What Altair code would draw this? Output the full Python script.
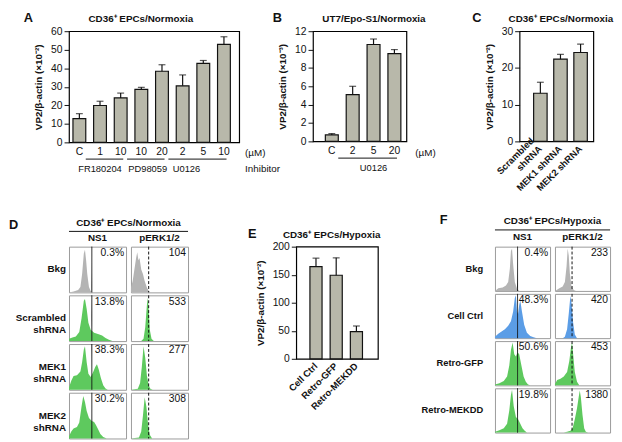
import altair as alt
import pandas as pd

FONT = "Liberation Sans"
INK = "#111111"
BAR_FILL = "#b8b8aa"
GRAY = "#b4b4b4"
GREEN = "#5ec95e"
BLUE = "#5b9de6"

# ---------------- bar panels ----------------
A_ids = ["C", "1|FR", "10|FR", "10|PD", "20|PD", "2|U", "5|U", "10|U"]
A_vals = [12.8, 19.9, 24.0, 28.6, 38.4, 30.5, 42.6, 52.9]
A_errs = [2.7, 2.3, 2.6, 1.1, 3.5, 5.9, 1.6, 4.1]
A_groups = ["FR180204", "PD98059", "U0126"]
A_gprev = ["C", "10|FR", "20|PD"]      # bar just before each group
A_gend = ["10|FR", "20|PD", "10|U"]
A_gmid = ["1|FR", "10|PD", "2|U"]

B_ids = ["C", "2", "5", "20"]
B_vals = [0.7, 5.1, 10.55, 9.55]
B_errs = [0.15, 0.9, 0.6, 0.45]
B_groups = ["U0126"]
B_gprev = ["C"]
B_gend = ["20"]
B_gmid = ["5"]

C_ids = ["Scrambled|shRNA", "MEK1 shRNA", "MEK2 shRNA"]
C_vals = [13.1, 22.4, 24.2]
C_errs = [3.0, 1.3, 2.3]

E_ids = ["Cell Ctrl", "Retro-GFP", "Retro-MEKDD"]
E_vals = [164.5, 149.0, 48.5]
E_errs = [15.0, 31.0, 10.0]

# ---------------- flow histograms (x: 0-100 of cell width, y: 0-1 of cell height) ----------------
D_rows = ["Bkg", "Scrambled|shRNA", "MEK1|shRNA", "MEK2|shRNA"]
D_kinds = ["gray", "green", "green", "green"]
D_ns1_labels = ["0.3%", "13.8%", "38.3%", "30.2%"]
D_perk_labels = ["104", "533", "277", "308"]
D_gates = [40, 31]
D_ns1 = [
    [(0, 0), (8, 0.02), (16, 0.05), (20, 0.12), (23, 0.4), (26, 0.85), (28, 0.93), (30, 0.7), (32, 0.4), (35, 0.12), (38, 0.03), (42, 0)],
    [(0, 0.05), (6, 0.08), (12, 0.1), (18, 0.2), (22, 0.5), (26, 0.88), (28, 0.92), (31, 0.7), (34, 0.4), (38, 0.25), (44, 0.18), (52, 0.15), (58, 0.12), (64, 0.07), (70, 0.03), (76, 0)],
    [(0, 0.05), (4, 0.2), (8, 0.3), (14, 0.32), (20, 0.4), (23, 0.6), (26, 0.88), (28, 0.95), (31, 0.6), (34, 0.35), (38, 0.28), (42, 0.38), (46, 0.5), (49, 0.56), (52, 0.45), (56, 0.25), (60, 0.1), (64, 0.03), (68, 0)],
    [(0, 0.05), (4, 0.15), (8, 0.22), (14, 0.25), (18, 0.35), (22, 0.7), (25, 0.93), (28, 0.8), (31, 0.6), (35, 0.45), (40, 0.38), (44, 0.36), (47, 0.3), (51, 0.2), (55, 0.1), (60, 0.03), (66, 0)],
]
D_perk = [
    [(0, 0.1), (3, 0.25), (6, 0.5), (9, 0.75), (11, 0.88), (13, 0.7), (15, 0.75), (18, 0.5), (21, 0.4), (24, 0.25), (28, 0.1), (31, 0.03), (34, 0)],
    [(0, 0), (18, 0), (22, 0.05), (25, 0.3), (28, 0.8), (29.5, 0.95), (31, 0.7), (33, 0.25), (36, 0.05), (40, 0)],
    [(0, 0), (12, 0.02), (16, 0.15), (19, 0.5), (22, 0.95), (25, 0.7), (28, 0.3), (31, 0.1), (34, 0.02), (38, 0)],
    [(0, 0), (14, 0.02), (18, 0.15), (21, 0.5), (24, 0.9), (27, 0.7), (30, 0.3), (33, 0.08), (37, 0)],
]

F_rows = ["Bkg", "Cell Ctrl", "Retro-GFP", "Retro-MEKDD"]
F_kinds = ["gray", "blue", "green", "green"]
F_ns1_labels = ["0.4%", "48.3%", "50.6%", "19.8%"]
F_perk_labels = ["233", "420", "453", "1380"]
F_gates = [41, 31]
F_ns1 = [
    [(0, 0), (6, 0.06), (14, 0.08), (20, 0.12), (24, 0.2), (27, 0.5), (29, 0.9), (31, 0.95), (33, 0.6), (36, 0.2), (40, 0.05), (44, 0)],
    [(0, 0.03), (6, 0.1), (12, 0.15), (18, 0.2), (24, 0.28), (29, 0.38), (33, 0.6), (36, 0.9), (38, 0.97), (40, 0.6), (42, 0.55), (44, 0.75), (46, 0.85), (49, 0.6), (53, 0.3), (58, 0.12), (64, 0.05), (70, 0.02), (76, 0)],
    [(0, 0.02), (8, 0.05), (16, 0.1), (22, 0.2), (26, 0.45), (29, 0.8), (32, 0.97), (35, 0.7), (38, 0.65), (41, 0.75), (44, 0.7), (48, 0.45), (52, 0.2), (56, 0.08), (60, 0.02), (64, 0)],
    [(0, 0.02), (8, 0.05), (16, 0.1), (22, 0.2), (26, 0.5), (29, 0.85), (31, 0.97), (34, 0.6), (38, 0.35), (42, 0.3), (46, 0.2), (50, 0.1), (54, 0.04), (58, 0)],
]
F_perk = [
    [(0, 0), (8, 0.06), (14, 0.1), (18, 0.2), (21, 0.55), (23, 0.95), (25, 0.8), (27, 0.4), (30, 0.1), (34, 0.02), (38, 0)],
    [(0, 0), (14, 0), (18, 0.03), (22, 0.2), (25, 0.55), (28, 0.95), (30, 0.8), (33, 0.35), (36, 0.08), (40, 0)],
    [(0, 0.03), (4, 0.12), (10, 0.15), (16, 0.2), (22, 0.3), (26, 0.55), (29, 0.85), (31, 0.97), (33, 0.7), (36, 0.3), (40, 0.08), (44, 0)],
    [(0, 0), (16, 0), (22, 0.02), (28, 0.04), (32, 0.1), (36, 0.3), (40, 0.55), (43, 0.8), (45, 0.95), (47, 0.8), (50, 0.4), (53, 0.1), (56, 0.02), (60, 0)],
]


def note(text, x, y, size=10, weight="normal", align="left", baseline="alphabetic"):
    return alt.Chart(pd.DataFrame({"t": [text]})).mark_text(
        fontSize=size, fontWeight=weight, align=align, baseline=baseline, color=INK
    ).encode(x=alt.value(x), y=alt.value(y), text="t:N")


def marker(x, y):
    # invisible point that only fixes the panel's layout bounds
    return alt.Chart(pd.DataFrame({"v": [0]})).mark_point(opacity=0, size=1).encode(
        x=alt.value(x), y=alt.value(y))


def bar_panel(ids, vals, errs, ymax, ystep, w, h, ytitle, p_inner, p_outer, p_align,
              label_expr=None, rotated=False, groups=None, label_bp=()):
    df = pd.DataFrame({"cat": ids, "val": vals, "hi": [v + e for v, e in zip(vals, errs)]})
    xs = alt.Scale(domain=ids, paddingInner=p_inner, paddingOuter=p_outer, align=p_align)
    ys = alt.Scale(domain=[0, ymax], nice=False)
    ax_kw = dict(title=None, ticks=False, domain=False, labelFontSize=10.5,
                 labelColor=INK, labelPadding=4, labelAngle=0)
    if label_expr:
        ax_kw["labelExpr"] = label_expr
    if rotated:
        ax_kw["labels"] = False
    xaxis = alt.Axis(**ax_kw)
    yaxis = alt.Axis(title=ytitle, values=list(range(0, ymax + 1, ystep)), tickSize=5,
                     tickColor=INK, domain=False, grid=False, labelFontSize=10.5,
                     labelColor=INK, labelPadding=2, titleFontSize=10,
                     titleFontWeight="bold", titleColor=INK, titlePadding=7)
    xenc = alt.X("cat:N", scale=xs, sort=ids, axis=xaxis)
    base = alt.Chart(df)
    bars = base.mark_bar(fill=BAR_FILL, stroke=INK, strokeWidth=1.2).encode(
        x=xenc, y=alt.Y("val:Q", scale=ys, axis=yaxis))
    err = base.mark_rule(color=INK, strokeWidth=1.2).encode(
        x=xenc, y=alt.Y("val:Q", scale=ys, axis=yaxis), y2="hi:Q")
    cap = base.mark_tick(color=INK, thickness=1.2, size=7).encode(
        x=xenc, y=alt.Y("hi:Q", scale=ys, axis=yaxis))
    layers = [bars, err, cap]
    if rotated:
        lab = base.transform_calculate(
            parts="split(datum.cat, '|')",
        ).transform_calculate(
            lower="peek(datum.parts)",
            upper="length(datum.parts) > 1 ? datum.parts[0] : ''",
        )
        for fld, dy in (("lower", 0), ("upper", -11.5)):
            layers.append(lab.mark_text(
                angle=315, align="right", baseline="middle", fontSize=9.5,
                fontWeight="bold", color=INK, dy=dy).encode(
                x=xenc, y=alt.value(h + 6), text=f"{fld}:N"))
    if groups is not None:
        gname, gprev, gend, gmid = groups
        gdf = pd.DataFrame({"g": gname, "cat": gprev, "e": gend, "m": gmid})
        gb = alt.Chart(gdf)
        layers.append(gb.mark_rule(color=INK, strokeWidth=1).encode(
            x=alt.X("cat:N", scale=xs, sort=ids, axis=xaxis, bandPosition=1),
            x2=alt.X2("e:N", bandPosition=0.7),
            y=alt.value(h + 17)))
        for name, bp in zip(gname, label_bp):
            layers.append(gb.transform_filter(alt.datum.g == name).mark_text(
                fontSize=9.5, color=INK, baseline="middle").encode(
                x=alt.X("m:N", scale=xs, sort=ids, axis=xaxis, bandPosition=bp),
                y=alt.value(h + 27), text="g:N"))
    return layers


# Panel A
A_layers = bar_panel(A_ids, A_vals, A_errs, 60, 10, 173, 113, "VP2/β-actin (×10⁻²)",
                     0.38, 0.31, 0.31, label_expr="split(datum.value, '|')[0]",
                     groups=(A_groups, A_gprev, A_gend, A_gmid), label_bp=(0.5, 1.0, 0.8))
A = alt.layer(*A_layers,
              note("A", -46, -19, size=13, weight="bold", baseline="top"),
              note("CD36⁺ EPCs/Normoxia", 73, -9, weight="bold", align="center"),
              marker(176, 180)).properties(width=173, height=113)

# Panel B (also carries panel A's unit notes that sit in the gap)
B_layers = bar_panel(B_ids, B_vals, B_errs, 12, 2, 95, 112, "VP2/β-actin (×10⁻³)",
                     0.38, 0.43, 0.69,
                     groups=(B_groups, B_gprev, B_gend, B_gmid), label_bp=(0.5,))
B = alt.layer(*B_layers,
              note("B", -41, -19, size=13, weight="bold", baseline="top"),
              note("UT7/Epo-S1/Normoxia", 62, -9, weight="bold", align="center"),
              note("(µM)", -69, 127),
              note("Inhibitor", -69, 143),
              note("(µM)", 104, 127),
              marker(159, 0)).properties(width=95, height=112)

# Panel C
C_layers = bar_panel(C_ids, C_vals, C_errs, 30, 10, 75, 112, "VP2/β-actin (×10⁻²)",
                     0.33, 0.5, 0.7, rotated=True)
C = alt.layer(*C_layers,
              note("C", -48, -19, size=13, weight="bold", baseline="top"),
              note("CD36⁺ EPCs/Normoxia", 42, -9, weight="bold", align="center")
              ).properties(width=75, height=112)

# Panel E
E_layers = bar_panel(E_ids, E_vals, E_errs, 200, 50, 83, 114, "VP2/β-actin (×10⁻²)",
                     0.4, 0.72, 0.47, rotated=True)
E = alt.layer(*E_layers,
              note("E", -49, -19, size=13, weight="bold", baseline="top"),
              note("CD36⁺ EPCs/Hypoxia", 36, -9, weight="bold", align="center"),
              marker(-107, -22), marker(123, -22)
              ).properties(width=83, height=114)


def hist_panel(rows, ns1, perk, ns1_lab, perk_lab, kinds, gates, W, H, rsp, csp,
               title, title_y, uline_y, col_y, letter, letter_x, letter_y,
               row_font, row_pad, mark_x, mark_y):
    recs = []
    for i, r in enumerate(rows):
        for col, curves, labs, g in (("NS1", ns1, ns1_lab, gates[0]),
                                     ("pERK1/2", perk, perk_lab, gates[1])):
            for j, (xv, yv) in enumerate(curves[i]):
                recs.append({"row": r, "col": col, "x": xv, "y": yv, "kind": kinds[i],
                             "label": labs[i], "gate": g, "first": int(j == 0)})
    df = pd.DataFrame(recs)
    xsc = alt.Scale(domain=[0, 100], nice=False, zero=False)
    base = alt.Chart()
    area = base.mark_area(interpolate="linear").encode(
        x=alt.X("x:Q", scale=xsc, axis=None),
        y=alt.Y("y:Q", scale=alt.Scale(domain=[0, 1], nice=False), axis=None),
        color=alt.Color("kind:N", scale=alt.Scale(domain=["gray", "green", "blue"],
                                                  range=[GRAY, GREEN, BLUE]), legend=None))
    firsts = base.transform_filter("datum.first == 1")
    gate = firsts.mark_rule(color=INK, strokeWidth=1).encode(
        x=alt.X("gate:Q", scale=xsc, axis=None),
        y=alt.value(0), y2=alt.value(H),
        strokeDash=alt.StrokeDash("col:N", scale=alt.Scale(domain=["NS1", "pERK1/2"],
                                                           range=[[1, 0], [3, 2]]), legend=None))
    num = firsts.mark_text(align="right", baseline="top", fontSize=10.5, color=INK).encode(
        x=alt.value(W - 2), y=alt.value(1.5), text="label:N")
    rowlab = base.transform_filter("datum.first == 1 && datum.col == 'NS1'").mark_text(
        align="right", baseline="middle", fontSize=row_font, fontWeight="bold", color=INK,
        lineBreak="|", lineHeight=12.5).encode(
        x=alt.value(-row_pad), y=alt.value(H / 2), text="row:N")
    top_cells = base.transform_filter(f"datum.first == 1 && datum.row == '{rows[0]}'")
    collab = top_cells.mark_text(align="center", baseline="alphabetic", fontSize=10,
                                 fontWeight="bold", color=INK).encode(
        x=alt.value(W / 2), y=alt.value(col_y), text="col:N")
    corner = top_cells.transform_filter("datum.col == 'NS1'")
    ttl = corner.mark_text(align="center", baseline="alphabetic", fontSize=10,
                           fontWeight="bold", color=INK).encode(
        x=alt.value((2 * W + csp) / 2), y=alt.value(title_y), text=alt.value(title))
    ul = corner.mark_rule(color=INK, strokeWidth=1).encode(
        x=alt.value(0), x2=alt.value(2 * W + csp), y=alt.value(uline_y))
    let = corner.mark_text(align="left", baseline="top", fontSize=13, fontWeight="bold",
                           color=INK).encode(
        x=alt.value(letter_x), y=alt.value(letter_y), text=alt.value(letter))
    mk = corner.mark_point(opacity=0, size=1).encode(x=alt.value(mark_x), y=alt.value(mark_y))
    return alt.layer(area, gate, num, rowlab, collab, ttl, ul, let, mk, data=df).properties(
        width=W, height=H, view=alt.ViewBackground(stroke="#9a9a9a", strokeWidth=1)
    ).facet(
        row=alt.Row("row:N", sort=rows, header=None),
        column=alt.Column("col:N", sort=["NS1", "pERK1/2"], header=None),
        spacing={"row": rsp, "column": csp},
        bounds="flush",
    )


D = hist_panel(D_rows, D_ns1, D_perk, D_ns1_labels, D_perk_labels, D_kinds, D_gates,
               58, 46.5, 2.5, 5, "CD36⁺ EPCs/Normoxia", -21, -15.5, -5.5, "D", -61, -28,
               10, 3, 0, -31)
F = hist_panel(F_rows, F_ns1, F_perk, F_ns1_labels, F_perk_labels, F_kinds, F_gates,
               56, 45, 3, 5, "CD36⁺ EPCs/Hypoxia", -23, -17, -7, "F", -56, -33,
               9.5, 12, -76, -36)

top = alt.hconcat(A, B, C, spacing=0)
bottom = alt.hconcat(D, E, F, spacing=0)
chart = alt.vconcat(top, bottom, spacing=0, padding=0).configure(
    font=FONT
).configure_view(stroke="black", strokeWidth=1.2)

chart.save("out.html", embed_options={"renderer": "svg", "actions": False})
